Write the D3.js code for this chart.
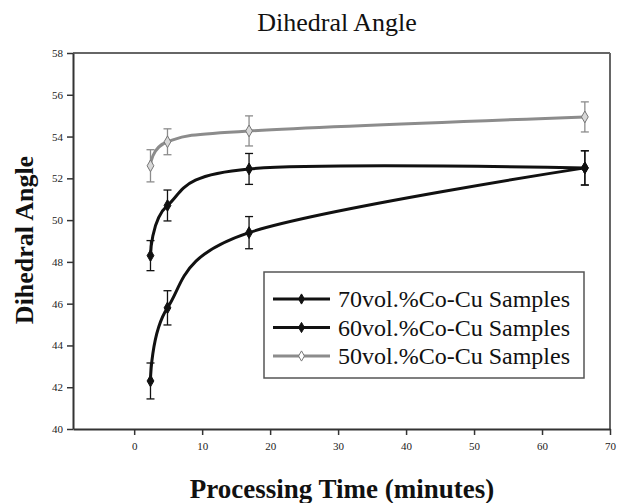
<!DOCTYPE html>
<html><head><meta charset="utf-8">
<script src="https://cdn.jsdelivr.net/npm/d3@7"></script>
<style>body{margin:0;background:#fff}svg{display:block}</style>
</head><body>
<script>
const times = [2.4, 4.9, 16.9, 66.3];
const series70 = [42.3, 45.8, 49.4, 52.5];
const err70 = [0.86, 0.82, 0.77, 0.82];
const series60 = [48.3, 50.7, 52.45, 52.5];
const err60 = [0.72, 0.74, 0.74, 0.82];
const series50 = [52.6, 53.75, 54.27, 54.94];
const err50 = [0.77, 0.62, 0.72, 0.72];
const seriesNames = ["70vol.%Co-Cu Samples", "60vol.%Co-Cu Samples", "50vol.%Co-Cu Samples"];
const xTicks = [0, 10, 20, 30, 40, 50, 60, 70];
const yTicks = [40, 42, 44, 46, 48, 50, 52, 54, 56, 58];

const W = 618, H = 503;
const L = 73, R = 610, T = 53, B = 429;
const svg = d3.select("body").append("svg").attr("width", W).attr("height", H);
const x = d3.scaleLinear().domain([-9, 70]).range([L, R]);
const y = d3.scaleLinear().domain([40, 58]).range([B, T]);

const seriesList = [
  {name: seriesNames[0], vals: series70, err: err70, color: "#111", fill: "#111", mstroke: "#111"},
  {name: seriesNames[1], vals: series60, err: err60, color: "#111", fill: "#111", mstroke: "#111"},
  {name: seriesNames[2], vals: series50, err: err50, color: "#8c8c8c", fill: "#d8d8d8", mstroke: "#777"}
];

// frame top/right
svg.append("line").attr("x1", L).attr("x2", R).attr("y1", T).attr("y2", T).attr("stroke", "#666").attr("stroke-width", 2);
svg.append("line").attr("x1", R).attr("x2", R).attr("y1", T).attr("y2", B).attr("stroke", "#666").attr("stroke-width", 2);

const xAxis = svg.append("g").attr("transform", `translate(0,${B})`)
  .call(d3.axisBottom(x).tickValues(xTicks).tickSize(6).tickSizeOuter(0));
const yAxis = svg.append("g").attr("transform", `translate(${L},0)`)
  .call(d3.axisLeft(y).tickValues(yTicks).tickSize(6).tickSizeOuter(0));
[xAxis, yAxis].forEach(g => {
  g.select(".domain").attr("stroke", "#333").attr("stroke-width", 2);
  g.selectAll(".tick line").attr("stroke", "#333").attr("stroke-width", 1.5);
  g.selectAll(".tick text").attr("font-family", "Liberation Serif, serif").attr("font-size", 11).attr("fill", "#222");
});
xAxis.selectAll(".tick text").attr("dy", "1.1em");
yAxis.selectAll(".tick text").attr("x", -10);

const line = d3.line().x(d => x(d[0])).y(d => y(d[1])).curve(d3.curveCardinal.tension(0));

seriesList.forEach(s => {
  const pts = times.map((t, i) => [t, s.vals[i], s.err[i]]);
  const g = svg.append("g");
  // error bars
  pts.forEach(p => {
    const cx = x(p[0]);
    g.append("line").attr("x1", cx).attr("x2", cx).attr("y1", y(p[1] - p[2])).attr("y2", y(p[1] + p[2])).attr("stroke", s.color).attr("stroke-width", 1.3);
    [p[1] - p[2], p[1] + p[2]].forEach(v => {
      g.append("line").attr("x1", cx - 4).attr("x2", cx + 4).attr("y1", y(v)).attr("y2", y(v)).attr("stroke", s.color).attr("stroke-width", 1.3);
    });
  });
  g.append("path").datum(pts).attr("d", line).attr("fill", "none").attr("stroke", s.color).attr("stroke-width", 3);
  pts.forEach(p => {
    g.append("path").attr("d", d3.symbol(d3.symbolDiamond, 40)()).attr("transform", `translate(${x(p[0])},${y(p[1])})`)
      .attr("fill", s.fill).attr("stroke", s.mstroke).attr("stroke-width", 1);
  });
});

// legend
const lg = svg.append("g");
lg.append("rect").attr("x", 264).attr("y", 272).attr("width", 320).attr("height", 106).attr("fill", "#fff").attr("stroke", "#555").attr("stroke-width", 1.5);
seriesList.forEach((s, i) => {
  const ry = 299 + i * 28.5;
  lg.append("line").attr("x1", 273).attr("x2", 330).attr("y1", ry).attr("y2", ry).attr("stroke", s.color).attr("stroke-width", 3);
  lg.append("path").attr("d", d3.symbol(d3.symbolDiamond, 30)()).attr("transform", `translate(301.5,${ry})`)
    .attr("fill", i === 2 ? "#fff" : s.fill).attr("stroke", s.mstroke).attr("stroke-width", 1);
  lg.append("text").attr("x", 338).attr("y", ry + 8).attr("font-family", "Liberation Serif, serif").attr("font-size", 24).attr("fill", "#111").text(s.name);
});

svg.append("text").attr("x", 337).attr("y", 31).attr("text-anchor", "middle").attr("font-family", "Liberation Serif, serif").attr("font-size", 26).attr("fill", "#111").text("Dihedral Angle");
svg.append("text").attr("x", 342).attr("y", 498).attr("text-anchor", "middle").attr("font-family", "Liberation Serif, serif").attr("font-weight", "bold").attr("font-size", 27).attr("fill", "#111").text("Processing Time (minutes)");
svg.append("text").attr("transform", "translate(33,240) rotate(-90)").attr("text-anchor", "middle").attr("font-family", "Liberation Serif, serif").attr("font-weight", "bold").attr("font-size", 26).attr("fill", "#111").text("Dihedral Angle");
</script>
</body></html>
